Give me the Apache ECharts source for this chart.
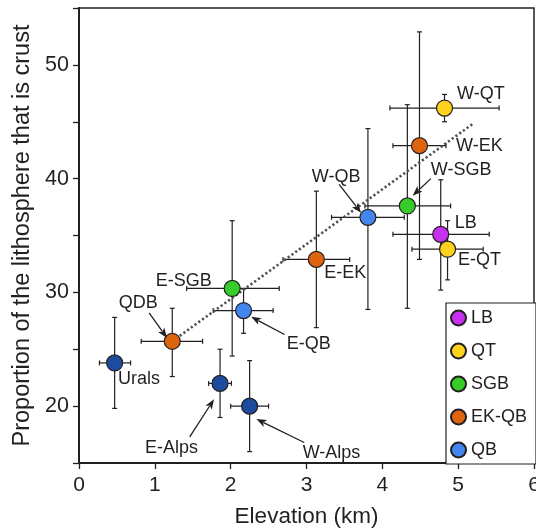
<!DOCTYPE html>
<html>
<head>
<meta charset="utf-8">
<script src="https://cdn.jsdelivr.net/npm/echarts@6/dist/echarts.min.js"></script>
<style>html,body{margin:0;padding:0;background:#fff}#c{width:536px;height:531px}</style>
</head>
<body>
<div id="c"></div>
<script>
// ---- data ----
const names   = ['Urals','QDB','E-SGB','E-QB','E-Alps','W-Alps','E-EK','W-QB','W-SGB','W-EK','W-QT','LB','E-QT'];
const groups  = ['Other','EK-QB','SGB','QB','Other','Other','EK-QB','QB','SGB','EK-QB','QT','LB','QT'];
const elev    = [0.47, 1.23, 2.02, 2.17, 1.86, 2.25, 3.13, 3.81, 4.33, 4.49, 4.82, 4.77, 4.86];
const elevLo  = [0.27, 0.82, 1.42, 1.77, 1.71, 2.00, 2.69, 3.33, 3.77, 4.14, 4.10, 4.14, 4.39];
const elevHi  = [0.68, 1.63, 2.64, 2.56, 2.01, 2.50, 3.57, 4.29, 4.90, 4.84, 5.54, 5.41, 5.33];
const prop    = [23.8, 25.7, 30.35, 28.4, 22.0, 20.0, 32.9, 36.6, 37.6, 42.9, 46.2, 35.1, 33.8];
const propLo  = [19.8, 22.6, 24.4, 26.4, 19.0, 16.0, 26.9, 28.5, 28.6, 32.9, 45.0, 30.2, 31.1];
const propHi  = [27.8, 28.6, 36.3, 30.3, 25.0, 24.0, 38.9, 44.4, 46.5, 52.9, 47.4, 39.9, 36.3];
const legendGroups = ['LB','QT','SGB','EK-QB','QB'];
const trendX = [1.23, 5.19];
const trendY = [25.7, 44.8];
const xTicks = [0,1,2,3,4,5,6];
const yTicks = [20,30,40,50];
// annotation: label, label position (data), arrow tail, arrow head (data) or null
const annLabels = ['QDB','E-SGB','E-QB','Urals','E-Alps','W-Alps','W-QB','W-SGB','W-EK','W-QT','LB','E-QT','E-EK'];
const annX      = [0.78, 1.38, 3.03, 0.79, 1.22, 3.33, 3.39, 5.04, 5.28, 5.30, 5.10, 5.28, 3.51];
const annY      = [29.1, 31.0, 25.5, 22.4, 16.35, 15.9, 40.15, 40.77, 42.9, 47.45, 36.1, 32.86, 31.7];
const arrowFrom = [[0.925,28.2], null, [2.71,26.3], null, [1.46,17.3], [2.97,16.8], [3.43,39.5], [4.64,40.0], null, null, null, null, null];
const arrowTo   = [[1.16,26.0], null, [2.27,27.85], null, [1.78,20.6], [2.34,18.86], [3.72,37.0], [4.40,38.5], null, null, null, null, null];

// ---- styles ----
const ink = '#231f20';
const colors = {'LB':'#c830f0','QT':'#ffd21e','SGB':'#36cc2a','EK-QB':'#de6410','QB':'#4285ec','Other':'#1d4b9e'};
const FONT = 'Liberation Sans, Arial, Helvetica, sans-serif';

const chart = echarts.init(document.getElementById('c'));

const errData = names.map((n,i)=>[elev[i], prop[i], elevLo[i], elevHi[i], propLo[i], propHi[i]]);

const series = [];
series.push({
  type:'custom', name:'err', z:2, silent:true,
  data: errData,
  encode:{x:[0,2,3], y:[1,4,5]},
  renderItem(params, api){
    const x=api.value(0), y=api.value(1);
    const l=api.coord([api.value(2),y]), r=api.coord([api.value(3),y]);
    const b=api.coord([x,api.value(4)]), t=api.coord([x,api.value(5)]);
    const cap=2.5;
    const st={stroke:ink, lineWidth:1.2};
    const ln=(x1,y1,x2,y2)=>({type:'line', shape:{x1,y1,x2,y2}, style:st});
    return {type:'group', children:[
      ln(l[0],l[1],r[0],r[1]),
      ln(l[0],l[1]-cap,l[0],l[1]+cap),
      ln(r[0],r[1]-cap,r[0],r[1]+cap),
      ln(b[0],b[1],t[0],t[1]),
      ln(b[0]-cap,b[1],b[0]+cap,b[1]),
      ln(t[0]-cap,t[1],t[0]+cap,t[1])
    ]};
  }
});
series.push({
  type:'line', name:'trend', z:3, silent:true, symbol:'none',
  data: trendX.map((x,i)=>[x, trendY[i]]),
  lineStyle:{color:'#505050', width:2.6, type:[2.2,2.4]}
});
['Other'].concat(legendGroups).forEach(g=>{
  series.push({
    type:'scatter', name:g, z:5, symbol:'circle', symbolSize:16,
    data: names.map((n,i)=>groups[i]===g?[elev[i],prop[i]]:null).filter(d=>d),
    itemStyle:{color:colors[g], borderColor:ink, borderWidth:1.2, opacity:1}
  });
});
series.push({
  type:'custom', name:'ann', z:6, silent:true,
  data: annLabels.map((s,i)=>[annX[i], annY[i]]),
  renderItem(params, api){
    const i=params.dataIndex;
    const p=api.coord([api.value(0), api.value(1)]);
    const ch=[{type:'text', style:{text:annLabels[i], x:p[0], y:p[1], fill:ink, font:'18px '+FONT, align:'center', verticalAlign:'middle'}}];
    if(arrowFrom[i]){
      const a=api.coord(arrowFrom[i]), h=api.coord(arrowTo[i]);
      const dx=h[0]-a[0], dy=h[1]-a[1], L=Math.hypot(dx,dy), ux=dx/L, uy=dy/L;
      const hl=10, hw=3.8;
      const bx=h[0]-ux*hl, by=h[1]-uy*hl;
      ch.push({type:'line', shape:{x1:a[0],y1:a[1],x2:bx+ux*2,y2:by+uy*2}, style:{stroke:ink,lineWidth:1.3}});
      ch.push({type:'polygon', shape:{points:[[h[0],h[1]],[bx-uy*hw,by+ux*hw],[bx+ux*2.5,by+uy*2.5],[bx+uy*hw,by-ux*hw]]}, style:{fill:ink}});
    }
    return {type:'group', children:ch};
  }
});

chart.setOption({
  animation:false,
  backgroundColor:'#fff',
  grid:{left:79, top:8, width:455, height:455, show:true, borderColor:ink, borderWidth:1.5, backgroundColor:'transparent', containLabel:false, outerBoundsMode:'none'},
  xAxis:{
    type:'value', min:xTicks[0], max:xTicks[xTicks.length-1], interval:1,
    name:'Elevation (km)', nameLocation:'middle', nameGap:42,
    nameTextStyle:{color:ink, fontSize:22.5, fontFamily:FONT},
    axisLine:{show:true, onZero:false, lineStyle:{color:ink, width:2}},
    axisTick:{show:true, inside:false, length:6, lineStyle:{color:ink, width:1.3}},
    axisLabel:{color:ink, fontSize:21, fontFamily:FONT, margin:12},
    splitLine:{show:false}
  },
  yAxis:{
    type:'value', min:15, max:55, interval:5,
    name:'Proportion of the lithosphere that is crust', nameLocation:'middle', nameGap:40,
    nameTextStyle:{color:ink, fontSize:23.5, fontFamily:FONT},
    axisLine:{show:true, onZero:false, lineStyle:{color:ink, width:2}},
    axisTick:{show:true, inside:false, length:6, lineStyle:{color:ink, width:1.3}},
    axisLabel:{color:ink, fontSize:21.5, fontFamily:FONT, margin:10, formatter:v=>yTicks.includes(v)?String(v):''},
    splitLine:{show:false}
  },
  legend:{
    data:legendGroups, orient:'vertical', left:446, top:303,
    itemWidth:15, itemHeight:15, itemGap:15, icon:'circle',
    padding:[6,9,5,4], borderColor:ink, borderWidth:1.2, backgroundColor:'#fff',
    textStyle:{color:ink, fontSize:18, fontFamily:FONT}, selectedMode:false
  },
  series
});
</script>
</body>
</html>
